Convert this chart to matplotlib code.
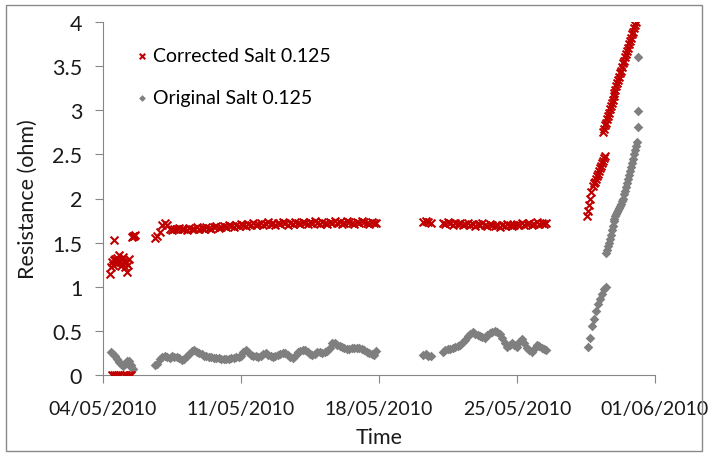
import datetime as dt
import numpy as np
import matplotlib
matplotlib.use("Agg")
import matplotlib.pyplot as plt
import matplotlib.dates as mdates
from matplotlib.patches import Rectangle

plt.rcParams['font.family'] = ['Lato', 'DejaVu Sans']

START = dt.datetime(2010, 5, 4)
END = dt.datetime(2010, 6, 1)

corrected_label = "Corrected Salt 0.125"
original_label = "Original Salt 0.125"

# --- Corrected Salt 0.125 (days since 04/05/2010, ohm) ---
corr_early_days = [0.35, 0.40, 0.45, 0.50, 0.55, 0.55, 0.60, 0.65, 0.70, 0.75, 0.80,
                   0.85, 0.90, 0.95, 1.00, 1.05, 1.10, 1.15, 1.20, 1.25, 1.30,
                   1.45, 1.50, 1.55, 1.60,
                   0.45, 0.55, 0.65, 0.75, 0.85, 1.05, 1.15, 1.30, 1.40]
corr_early_vals = [1.15, 1.22, 1.28, 1.25, 1.30, 1.53, 1.32, 1.27, 1.33, 1.30, 1.36,
                   1.28, 1.24, 1.31, 1.34, 1.29, 1.22, 1.27, 1.17, 1.25, 1.32,
                   1.56, 1.58, 1.57, 1.59,
                   0.0, 0.0, 0.0, 0.0, 0.0, 0.0, 0.0, 0.0, 0.0]

# 3-hourly readings
corr_main_start = 2.625
corr_main_vals = [1.55, 1.58, 1.62, 1.70, 1.72, 1.70, 1.66, 1.64, 1.66, 1.65,
                  1.67, 1.65, 1.66, 1.64, 1.67, 1.66, 1.65, 1.68, 1.66, 1.67,
                  1.66, 1.68, 1.67, 1.66, 1.68, 1.69, 1.67, 1.68, 1.69, 1.68,
                  1.70, 1.69, 1.68, 1.70, 1.69, 1.71, 1.70, 1.69, 1.71, 1.70,
                  1.72, 1.70, 1.71, 1.72, 1.70, 1.71, 1.73, 1.71, 1.72, 1.70,
                  1.72, 1.71, 1.73, 1.72, 1.70, 1.72, 1.71, 1.73, 1.72, 1.71,
                  1.73, 1.72, 1.71, 1.73, 1.72, 1.74, 1.72, 1.71, 1.73, 1.72,
                  1.71, 1.73, 1.72, 1.74, 1.72, 1.73, 1.71, 1.72, 1.74, 1.73,
                  1.72, 1.71, 1.73, 1.72, 1.74, 1.73, 1.72, 1.71, 1.73, 1.72,
                  1.72]

corr_mid_start = 16.25
corr_mid_vals = [1.73, 1.74, 1.73, 1.72]

corr_late_start = 17.25
corr_late_vals = [1.72, 1.71, 1.73, 1.72, 1.70, 1.72, 1.71, 1.72, 1.70, 1.71,
                  1.72, 1.70, 1.71, 1.69, 1.71, 1.70, 1.72, 1.70, 1.69, 1.71,
                  1.70, 1.69, 1.70, 1.68, 1.70, 1.69, 1.71, 1.70, 1.69, 1.70,
                  1.71, 1.70, 1.72, 1.70, 1.71, 1.72, 1.70, 1.71, 1.73, 1.71,
                  1.72, 1.71, 1.72]

corr_rise1_start = 24.55
corr_rise1_vals = [1.80, 1.86, 1.93, 1.99, 2.07]

corr_rise2_start = 24.85
corr_rise2_vals = [2.14, 2.17, 2.19, 2.22, 2.25, 2.28, 2.31, 2.34, 2.37, 2.40,
                   2.43, 2.46, 2.48]

corr_rise3_start = 25.35
corr_rise3_vals = [2.75, 2.79, 2.83, 2.86, 2.90, 2.94, 2.97, 3.01, 3.05, 3.08,
                   3.12, 3.16, 3.20, 3.23, 3.27, 3.31, 3.34, 3.38, 3.42, 3.45,
                   3.49, 3.53, 3.56, 3.60, 3.64, 3.67, 3.71, 3.75, 3.78, 3.82,
                   3.86, 3.89, 3.93, 3.97, 4.00]

# --- Original Salt 0.125 ---
orig_early_days = [0.40, 0.50, 0.60, 0.70, 0.80, 0.90, 1.00, 1.10, 1.20, 1.30,
                   1.40, 1.50, 1.30, 1.40]
orig_early_vals = [0.26, 0.24, 0.21, 0.18, 0.15, 0.12, 0.10, 0.13, 0.16, 0.12,
                   0.09, 0.07, 0.16, 0.11]

orig_main_start = 2.625
orig_main_vals = [0.11, 0.13, 0.18, 0.20, 0.21, 0.20, 0.19, 0.21, 0.20, 0.20,
                  0.19, 0.17, 0.18, 0.21, 0.24, 0.27, 0.28, 0.26, 0.25, 0.24,
                  0.22, 0.21, 0.20, 0.20, 0.19, 0.19, 0.19, 0.18, 0.18, 0.18,
                  0.18, 0.19, 0.19, 0.20, 0.20, 0.22, 0.26, 0.28, 0.26, 0.23,
                  0.22, 0.21, 0.20, 0.22, 0.24, 0.25, 0.23, 0.21, 0.20, 0.21,
                  0.23, 0.24, 0.25, 0.25, 0.23, 0.20, 0.19, 0.22, 0.26, 0.27,
                  0.28, 0.28, 0.26, 0.24, 0.23, 0.24, 0.26, 0.26, 0.25, 0.26,
                  0.27, 0.31, 0.36, 0.36, 0.34, 0.33, 0.32, 0.31, 0.30, 0.30,
                  0.31, 0.31, 0.31, 0.31, 0.30, 0.28, 0.26, 0.25, 0.24, 0.23,
                  0.27]

orig_mid_start = 16.25
orig_mid_vals = [0.23, 0.24, 0.22, 0.21]

orig_late_start = 17.25
orig_late_vals = [0.26, 0.28, 0.29, 0.30, 0.31, 0.32, 0.33, 0.34, 0.37, 0.40,
                  0.44, 0.47, 0.49, 0.47, 0.45, 0.44, 0.43, 0.42, 0.45, 0.48,
                  0.49, 0.50, 0.49, 0.46, 0.42, 0.36, 0.32, 0.34, 0.36, 0.34,
                  0.32, 0.37, 0.41, 0.36, 0.31, 0.28, 0.26, 0.30, 0.34, 0.33,
                  0.31, 0.29, 0.28]

orig_rise1_start = 24.6
orig_rise1_vals = [0.32, 0.42, 0.55, 0.64, 0.73, 0.80, 0.86, 0.92, 0.97, 1.00]

orig_rise2_start = 25.5
orig_rise2_vals = [1.38, 1.42, 1.46, 1.50, 1.54, 1.59, 1.64, 1.69, 1.74, 1.77,
                   1.80, 1.83, 1.85, 1.87, 1.89, 1.92, 1.94, 1.97, 2.00, 2.05,
                   2.09, 2.13, 2.18, 2.22, 2.27, 2.31, 2.36, 2.40, 2.45, 2.50,
                   2.55, 2.60, 2.64]

orig_tail_days = [27.12, 27.15, 27.15]
orig_tail_vals = [2.81, 2.99, 3.60]


def to_dates(days):
    return [START + dt.timedelta(days=float(d)) for d in days]


def regular(start, vals, step):
    return list(start + step * np.arange(len(vals)))


corr_days = (corr_early_days
             + regular(corr_main_start, corr_main_vals, 0.125)
             + regular(corr_mid_start, corr_mid_vals, 0.125)
             + regular(corr_late_start, corr_late_vals, 0.125)
             + regular(corr_rise1_start, corr_rise1_vals, 0.05)
             + regular(corr_rise2_start, corr_rise2_vals, 0.05)
             + regular(corr_rise3_start, corr_rise3_vals, 0.05))
corr_vals = (corr_early_vals + corr_main_vals + corr_mid_vals + corr_late_vals
             + corr_rise1_vals + corr_rise2_vals + corr_rise3_vals)

orig_days = (orig_early_days
             + regular(orig_main_start, orig_main_vals, 0.125)
             + regular(orig_mid_start, orig_mid_vals, 0.125)
             + regular(orig_late_start, orig_late_vals, 0.125)
             + regular(orig_rise1_start, orig_rise1_vals, 0.1)
             + regular(orig_rise2_start, orig_rise2_vals, 0.05)
             + orig_tail_days)
orig_vals = (orig_early_vals + orig_main_vals + orig_mid_vals + orig_late_vals
             + orig_rise1_vals + orig_rise2_vals + orig_tail_vals)

fig = plt.figure(figsize=(7.08, 4.56), dpi=100)
fig.patches.append(Rectangle((0.008, 0.008), 0.984, 0.979, transform=fig.transFigure,
                             fill=False, edgecolor="#8a8a8a", linewidth=1.0))
ax = fig.add_axes([0.1455, 0.1754, 0.7795, 0.7742])

ax.scatter(to_dates(orig_days), orig_vals, marker="D", s=24, color="#7f7f7f",
           linewidths=0, label=original_label, zorder=2)
ax.scatter(to_dates(corr_days), corr_vals, marker="x", s=32, color="#c00000",
           linewidths=1.5, label=corrected_label, zorder=3)

ax.set_xlim(START, END)
ax.set_ylim(0, 4)
ax.set_yticks(np.arange(0, 4.01, 0.5))
ax.yaxis.set_major_formatter(plt.FuncFormatter(lambda v, p: f"{v:g}"))
ax.xaxis.set_major_locator(mdates.DayLocator(bymonthday=[4, 11, 18, 25, 1]))
ax.xaxis.set_major_formatter(mdates.DateFormatter("%d/%m/%Y"))

for side in ("top", "right"):
    ax.spines[side].set_visible(False)
for side in ("left", "bottom"):
    ax.spines[side].set_color("#868686")
ax.tick_params(axis="both", direction="out", length=6, color="#868686",
               labelcolor="#1a1a1a")
ax.tick_params(axis="y", pad=9, labelsize=15.5)
ax.tick_params(axis="x", pad=12, labelsize=14)

ax.set_ylabel("Resistance (ohm)", fontsize=15.5, labelpad=10, color="#1a1a1a")
ax.set_xlabel("Time", fontsize=15.5, labelpad=7, color="#1a1a1a")

handles, labels = ax.get_legend_handles_labels()
ax.legend(handles[::-1], labels[::-1], loc="upper left", bbox_to_anchor=(0.035, 0.95),
          frameon=False, fontsize=14, handletextpad=0.0, handlelength=1.2,
          labelspacing=1.25, markerscale=0.7, borderaxespad=0)

fig.savefig("out.png", dpi=100)
